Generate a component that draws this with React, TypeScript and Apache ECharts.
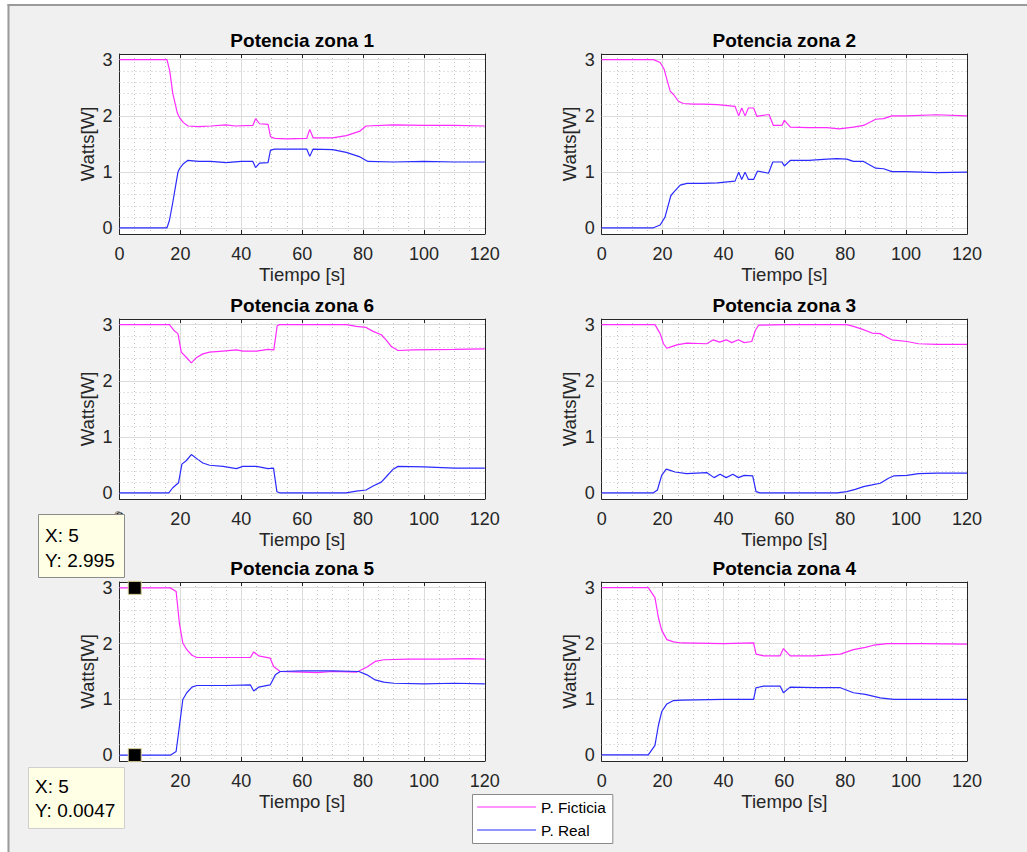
import React, { useEffect, useRef } from 'react';
import * as echarts from 'echarts';

const FONT = '"Liberation Sans", Arial, Helvetica, sans-serif';
const MAGENTA = '#ff2bff';
const BLUE = '#2b2bff';
const AXIS_COLOR = '#262626';

// ---- data: [time s, watts] ----
const zona1Ficticia: number[][] = [[0,3],[15.6,3],[16.5,2.8],[17.5,2.4],[19,2.05],[19.7,1.97],[21,1.88],[22.5,1.82],[26,1.81],[30,1.82],[35,1.84],[38,1.82],[43.8,1.83],[44.7,1.95],[46,1.86],[48.8,1.85],[49.6,1.63],[51,1.6],[55,1.59],[61.5,1.6],[62.5,1.76],[63.6,1.61],[70,1.61],[74.5,1.65],[79,1.73],[81,1.82],[90,1.84],[100,1.83],[110,1.83],[120,1.82]];
const zona1Real: number[][] = [[0,0.01],[15.6,0.01],[16.4,0.14],[17.5,0.46],[19.2,1.0],[19.7,1.06],[21,1.15],[22.5,1.21],[26,1.19],[30,1.19],[35,1.17],[40,1.19],[43.8,1.19],[44.7,1.08],[46,1.16],[48.8,1.17],[49.6,1.39],[51,1.41],[55,1.41],[61.5,1.41],[62.5,1.28],[63.6,1.41],[70,1.4],[74.5,1.35],[79,1.27],[81.6,1.19],[90,1.18],[100,1.19],[110,1.18],[120,1.18]];

const zona2Ficticia: number[][] = [[0,3],[17,3],[19.2,2.95],[20.5,2.83],[21.4,2.65],[22.5,2.44],[23.6,2.38],[25.2,2.26],[26.8,2.22],[30,2.21],[33.4,2.21],[38,2.2],[43.8,2.17],[45,2.0],[46,2.14],[47.1,2.0],[48.2,2.14],[49.9,2.14],[51,1.99],[54.2,2.02],[55,2.02],[56.4,1.83],[59.2,1.83],[60,1.92],[62,1.8],[68,1.79],[74,1.79],[78,1.77],[82.7,1.8],[86,1.83],[90,1.94],[92.6,1.95],[95.3,2.0],[100,2.0],[110,2.02],[120,2.0]];
const zona2Real: number[][] = [[0,0.01],[17,0.01],[19.2,0.06],[20.8,0.2],[22.7,0.58],[23.6,0.64],[25.8,0.77],[28,0.8],[33,0.8],[38,0.81],[43.8,0.84],[45,1.0],[46,0.87],[47.1,1.0],[48.2,0.87],[49.9,0.87],[51.2,1.02],[54.8,0.98],[56.2,1.18],[59.2,1.18],[60,1.11],[62,1.21],[68,1.21],[74,1.23],[77.3,1.24],[80.5,1.23],[82.7,1.19],[86,1.19],[90,1.07],[92.6,1.06],[95.3,1.01],[100,1.01],[110,0.99],[120,1.0]];

const zona6Ficticia: number[][] = [[0,3],[16.4,3],[18,2.89],[19.2,2.84],[20.3,2.51],[21.9,2.42],[23.6,2.32],[25.2,2.41],[27.4,2.48],[29.6,2.51],[34,2.53],[38.4,2.55],[40.5,2.53],[45,2.53],[48.8,2.56],[50.7,2.55],[51.8,2.98],[52.6,3.0],[74.5,3.0],[77.8,2.97],[81,2.95],[83.3,2.88],[86,2.82],[87.7,2.72],[89.3,2.61],[91.5,2.54],[96.4,2.55],[110,2.56],[120,2.57]];
const zona6Real: number[][] = [[0,0.01],[16.2,0.01],[17.5,0.1],[19.4,0.19],[20.5,0.52],[21.9,0.58],[23.6,0.69],[25.8,0.6],[27.4,0.54],[29.6,0.5],[34,0.48],[38.4,0.44],[40.5,0.48],[45,0.48],[48.8,0.44],[50.6,0.45],[51.7,0.03],[52.6,0.01],[74.5,0.01],[77.8,0.04],[81,0.06],[83.3,0.13],[86,0.2],[87.7,0.3],[89.9,0.43],[91.5,0.48],[100,0.47],[110,0.45],[120,0.45]];

const zona3Ficticia: number[][] = [[0,3],[17.5,3],[19.2,2.84],[20.3,2.66],[21.4,2.58],[22.5,2.6],[24.7,2.64],[27.9,2.67],[34.5,2.66],[36.7,2.73],[38.7,2.69],[40.9,2.73],[42.7,2.68],[44.9,2.73],[46.8,2.68],[49.3,2.7],[50.4,2.89],[51.5,2.99],[60,3.0],[80.5,3.0],[82.7,2.97],[85.5,2.92],[88.8,2.85],[91.5,2.84],[93.2,2.79],[95.3,2.73],[100.3,2.7],[104.1,2.66],[110,2.65],[120,2.65]];
const zona3Real: number[][] = [[0,0.01],[17,0.01],[18.3,0.06],[19.7,0.32],[21.2,0.43],[22.5,0.41],[24.1,0.38],[27.9,0.35],[34.5,0.37],[36.9,0.28],[38.9,0.34],[40.9,0.28],[43.1,0.34],[44.9,0.28],[46.8,0.32],[49.6,0.31],[50.7,0.03],[52,0.01],[77.3,0.01],[80.5,0.03],[83.3,0.07],[86,0.12],[88.8,0.15],[91.5,0.18],[94.2,0.27],[95.9,0.31],[100.3,0.32],[104.1,0.35],[110,0.36],[120,0.36]];

const zona5Ficticia: number[][] = [[0,2.995],[16.7,2.995],[18.6,2.93],[19.7,2.35],[20.8,2.01],[22.1,1.89],[23.8,1.79],[25.4,1.75],[35,1.75],[43,1.75],[44.1,1.85],[45.7,1.78],[49.5,1.74],[50.6,1.59],[52.8,1.5],[60,1.49],[65,1.48],[70,1.5],[78,1.49],[81.3,1.58],[84,1.68],[86.8,1.71],[95,1.72],[105,1.72],[115,1.73],[120,1.72]];
const zona5Real: number[][] = [[0,0.0047],[16.7,0.0047],[18.6,0.07],[19.7,0.53],[20.8,1.0],[22.1,1.12],[23.8,1.22],[25.4,1.25],[35,1.25],[43,1.26],[44.1,1.15],[45.7,1.22],[49.5,1.26],[51.2,1.44],[52.8,1.5],[60,1.51],[70,1.51],[78.6,1.5],[81.3,1.44],[84,1.35],[86.8,1.31],[90,1.29],[100,1.28],[110,1.29],[120,1.28]];

const zona4Ficticia: number[][] = [[0,3],[15.3,3],[17.5,2.82],[18.6,2.47],[19.7,2.24],[21.4,2.07],[23.6,2.03],[26.3,2.01],[40,2.0],[49.9,2.01],[50.7,1.81],[53.2,1.78],[58.6,1.78],[59.7,1.91],[61.9,1.78],[70,1.78],[78.4,1.81],[82.7,1.89],[86.6,1.93],[89.3,1.97],[93.7,2.0],[105,2.0],[120,1.99]];
const zona4Real: number[][] = [[0,0.01],[15.3,0.01],[17.5,0.18],[18.6,0.53],[19.7,0.78],[21.4,0.92],[23.6,0.98],[26.3,0.99],[40,1.0],[49.9,1.0],[50.7,1.21],[53.2,1.24],[58.6,1.24],[59.7,1.12],[61.9,1.22],[70,1.21],[78.4,1.21],[82.7,1.12],[86.6,1.09],[91.5,1.03],[95.9,1.0],[105,1.0],[120,1.0]];

// ticks / limits
const Y_TICKS = [0, 1, 2, 3];
const Y_MINOR = [0.2, 0.4, 0.6, 0.8, 1.2, 1.4, 1.6, 1.8, 2.2, 2.4, 2.6, 2.8];
const Y_MIN = -0.1;
const Y_MAX = 3.1;
const X_MIN = 0;
const X_MAX = 120;
const X_STEP = 20;

// datatips
const TIP_X = 5;
const TIP_Y_FICTICIA = 2.995;
const TIP_Y_REAL = 0.0047;

const NAME_F = 'P. Ficticia';
const NAME_R = 'P. Real';

const PANELS = [
  { title: 'Potencia zona 1', row: 0, col: 0, ficticia: zona1Ficticia, real: zona1Real },
  { title: 'Potencia zona 2', row: 0, col: 1, ficticia: zona2Ficticia, real: zona2Real },
  { title: 'Potencia zona 6', row: 1, col: 0, ficticia: zona6Ficticia, real: zona6Real },
  { title: 'Potencia zona 3', row: 1, col: 1, ficticia: zona3Ficticia, real: zona3Real },
  { title: 'Potencia zona 5', row: 2, col: 0, ficticia: zona5Ficticia, real: zona5Real },
  { title: 'Potencia zona 4', row: 2, col: 1, ficticia: zona4Ficticia, real: zona4Real },
];
const TIP_PANEL = 4;

// layout
const COL_LEFT = [119.5, 601.7];
const COL_W = 365.3;
const ROW_TOP = [54, 319, 582];
const ROW_H = [180, 180, 179];

function buildOption() {
  const grid: any[] = [];
  const xAxis: any[] = [];
  const yAxis: any[] = [];
  const series: any[] = [];
  const title: any[] = [];

  PANELS.forEach((p, i) => {
    const left = COL_LEFT[p.col];
    const top = ROW_TOP[p.row];
    const h = ROW_H[p.row];
    grid.push({
      left, top, width: COL_W, height: h,
      show: true, backgroundColor: '#ffffff', borderWidth: 0,
      containLabel: false, outerBoundsMode: 'none',
    });
    title.push({
      text: p.title,
      left: left + COL_W / 2,
      top: top - 14 - 9.5,
      textAlign: 'center',
      padding: 0,
      textStyle: { fontSize: 19, fontWeight: 'bold', color: '#000', fontFamily: FONT, lineHeight: 19 },
    });
    const axisLine = { show: true, onZero: false, lineStyle: { color: AXIS_COLOR, width: 1 } };
    xAxis.push({
      type: 'value', gridIndex: i, position: 'bottom', min: X_MIN, max: X_MAX, interval: X_STEP,
      axisLine,
      axisTick: { show: true, inside: true, length: 4, lineStyle: { color: AXIS_COLOR } },
      axisLabel: { show: true, margin: 11, fontSize: 18, color: AXIS_COLOR, fontFamily: FONT, showMinLabel: true, showMaxLabel: true, hideOverlap: false },
      splitLine: { show: true, lineStyle: { color: '#dcdcdc', width: 1 } },
      minorTick: { show: false, splitNumber: 4 },
      minorSplitLine: { show: true, lineStyle: { color: '#c4c4c4', width: 1, type: [1, 3] } },
      name: 'Tiempo [s]', nameLocation: 'middle', nameGap: 31, nameMoveOverlap: false,
      nameTextStyle: { fontSize: 18.6, color: AXIS_COLOR, fontFamily: FONT, lineHeight: 18.6 },
    });
    xAxis.push({
      type: 'value', gridIndex: i, position: 'top', min: X_MIN, max: X_MAX, interval: X_STEP,
      axisLine,
      axisTick: { show: true, inside: true, length: 4, lineStyle: { color: AXIS_COLOR } },
      axisLabel: { show: false }, splitLine: { show: false },
    });
    yAxis.push({
      type: 'value', gridIndex: i, position: 'left', min: Y_MIN, max: Y_MAX,
      axisLine,
      axisTick: { show: true, inside: true, length: 4, customValues: Y_TICKS, lineStyle: { color: AXIS_COLOR } },
      axisLabel: { show: true, margin: 7, fontSize: 18, color: AXIS_COLOR, fontFamily: FONT, customValues: Y_TICKS },
      splitLine: { show: false },
      name: 'Watts[W]', nameLocation: 'middle', nameGap: 23, nameRotate: 90, nameMoveOverlap: false,
      nameTextStyle: { fontSize: 18.6, color: AXIS_COLOR, fontFamily: FONT, lineHeight: 18.6 },
    });
    yAxis.push({
      type: 'value', gridIndex: i, position: 'right', min: Y_MIN, max: Y_MAX,
      axisLine,
      axisTick: { show: true, inside: true, length: 4, customValues: Y_TICKS, lineStyle: { color: AXIS_COLOR } },
      axisLabel: { show: false }, splitLine: { show: false },
    });
    series.push({
      type: 'line', name: NAME_F, xAxisIndex: 2 * i, yAxisIndex: 2 * i,
      data: p.ficticia, symbol: 'none', showSymbol: false, color: MAGENTA,
      lineStyle: { color: MAGENTA, width: 1.2 }, z: 3, silent: true,
      markLine: {
        silent: true, symbol: ['none', 'none'], z: 1, animation: false,
        label: { show: false }, emphasis: { disabled: true },
        data: [
          ...Y_TICKS.map((v) => ({ yAxis: v, lineStyle: { color: '#dcdcdc', width: 1, type: 'solid' } })),
          ...Y_MINOR.map((v) => ({ yAxis: v, lineStyle: { color: '#c4c4c4', width: 1, type: [1, 3] } })),
        ],
      },
    });
    series.push({
      type: 'line', name: NAME_R, xAxisIndex: 2 * i, yAxisIndex: 2 * i,
      data: p.real, symbol: 'none', showSymbol: false, color: BLUE,
      lineStyle: { color: BLUE, width: 1.2 }, z: 3, silent: true,
    });
  });

  series.push({
    type: 'scatter', name: 'datatip', xAxisIndex: 2 * TIP_PANEL, yAxisIndex: 2 * TIP_PANEL,
    data: [[TIP_X, TIP_Y_FICTICIA], [TIP_X, TIP_Y_REAL]],
    symbol: 'rect', symbolSize: 13, z: 10, silent: true,
    itemStyle: { color: '#000000', opacity: 1, borderColor: '#d9cf9a', borderWidth: 1 },
  });

  const tipText = (text: string, x: number, y: number) => ({
    type: 'text', z: 101,
    style: { text, x, y, fill: '#000', fontSize: 19, fontFamily: FONT, verticalAlign: 'middle', align: 'left' },
  });

  const graphic: any[] = [
    { type: 'rect', z: 100, silent: true, shape: { x: 0, y: 0, width: 1027, height: 4 }, style: { fill: '#ffffff' } },
    { type: 'rect', z: 100, silent: true, shape: { x: 0, y: 0, width: 7.5, height: 852 }, style: { fill: '#ffffff' } },
    { type: 'line', z: 100, silent: true, shape: { x1: 7.5, y1: 5, x2: 1027, y2: 5 }, style: { stroke: '#9a9a9a', lineWidth: 2 } },
    { type: 'line', z: 100, silent: true, shape: { x1: 8.5, y1: 4, x2: 8.5, y2: 852 }, style: { stroke: '#9a9a9a', lineWidth: 2 } },
    { type: 'rect', z: 100, silent: true, shape: { x: 38.5, y: 514.5, width: 86, height: 63 }, style: { fill: '#ffffe6', stroke: '#8c8c8c', lineWidth: 1 } },
    { type: 'arc', z: 100, silent: true, shape: { cx: 118, cy: 514.5, r: 3, startAngle: Math.PI, endAngle: 2 * Math.PI }, style: { stroke: '#8c8c8c', fill: 'none', lineWidth: 1 } },
    tipText('X: ' + TIP_X, 45, 535),
    tipText('Y: ' + TIP_Y_FICTICIA, 45, 560),
    { type: 'rect', z: 100, silent: true, shape: { x: 28.5, y: 767.5, width: 96, height: 61 }, style: { fill: '#ffffe6', stroke: '#cfcfcf', lineWidth: 1 } },
    tipText('X: ' + TIP_X, 35, 786),
    tipText('Y: ' + TIP_Y_REAL, 35, 810),
  ];

  return {
    animation: false,
    backgroundColor: '#f0f0f0',
    title,
    grid,
    xAxis,
    yAxis,
    series,
    graphic,
    legend: {
      show: true,
      data: [NAME_F, NAME_R],
      orient: 'vertical',
      left: 472.5, top: 794.5,
      itemWidth: 59, itemHeight: 14, itemGap: 8,
      padding: [5, 7, 6, 4],
      backgroundColor: '#ffffff', borderColor: '#8a8a8a', borderWidth: 1, borderRadius: 0,
      selectedMode: false,
      itemStyle: { opacity: 0, borderWidth: 0 },
      lineStyle: { width: 1.2 },
      textStyle: { fontSize: 15.4, color: '#000', fontFamily: FONT },
    },
  };
}

export default function App() {
  const ref = useRef<HTMLDivElement>(null);
  useEffect(() => {
    if (!ref.current) return;
    const chart = echarts.init(ref.current, undefined, { renderer: 'svg' });
    chart.setOption(buildOption() as any);
    return () => chart.dispose();
  }, []);
  return (
    <div
      ref={ref}
      style={{ position: 'absolute', left: 0, top: 0, width: 1027, height: 852 }}
    />
  );
}
